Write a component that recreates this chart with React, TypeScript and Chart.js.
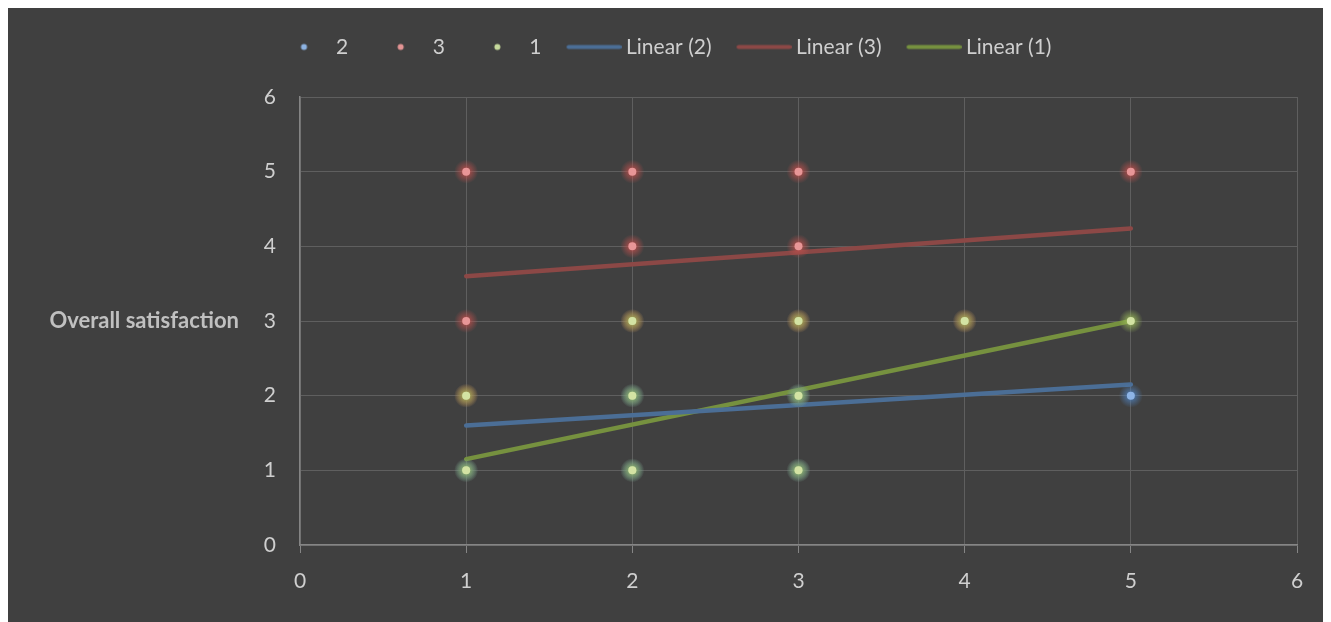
import React, { useEffect, useRef } from 'react';
import { Chart, registerables } from 'chart.js';

Chart.register(...registerables);

// ---------- data ----------
const seriesNames = ['2', '3', '1'];
const series2X = [5, 1, 2, 3, 2, 3];
const series2Y = [2, 1, 1, 1, 2, 2];
const series3X = [1, 2, 3, 5, 2, 3, 1, 1, 2, 3, 4];
const series3Y = [5, 5, 5, 5, 4, 4, 3, 2, 3, 3, 3];
const series1X = [1, 1, 2, 2, 2, 3, 3, 3, 4, 5];
const series1Y = [1, 2, 1, 2, 3, 1, 2, 3, 3, 3];

const trendNames = ['Linear (2)', 'Linear (3)', 'Linear (1)'];
const trendX = [1, 5];
const trend2Y = [1.6, 2.15];
const trend3Y = [3.6, 4.24];
const trend1Y = [1.15, 3.0];

const axisMin = 0;
const axisMax = 6;
const axisStep = 1;
const yAxisTitle = 'Overall satisfaction';

// ---------- styles ----------
const W = 1323;
const H = 614;
const BG = '#404040';
const GRID = '#5f5f5f';
const AXIS = '#858585';
const TEXT = '#cfcfcf';
const TITLE = '#c0c0c0';
const FONT = 'Lato, "Open Sans", sans-serif';

const pointColors = ['#8db4e6', '#e89697', '#d3e3a3'];
const glowRGB = ['79,129,189', '192,80,77', '155,187,89'];
const legendDotColors = ['#8db3e2', '#e39494', '#c6da9c'];
const trendColors = ['#4b6e96', '#8c4846', '#76913f'];

const zip = (xs: number[], ys: number[]) => xs.map((x, i) => ({ x, y: ys[i] }));

function makeLegendImage(kind: 'dot' | 'line', color: string): HTMLCanvasElement {
  const c = document.createElement('canvas');
  c.width = 76;
  c.height = 21;
  const g = c.getContext('2d')!;
  if (kind === 'line') {
    g.strokeStyle = color;
    g.lineWidth = 4;
    g.lineCap = 'round';
    g.beginPath();
    g.moveTo(23, 10.5);
    g.lineTo(74, 10.5);
    g.stroke();
  } else {
    g.fillStyle = color;
    g.beginPath();
    g.arc(48.5, 10.5, 3, 0, Math.PI * 2);
    g.fill();
  }
  return c;
}

const bgPlugin = {
  id: 'bgFill',
  beforeDraw(chart: any) {
    const ctx = chart.ctx;
    ctx.save();
    ctx.fillStyle = BG;
    ctx.fillRect(0, 0, chart.width, chart.height);
    ctx.restore();
  },
};

// soft glow behind each marker, placed at the element positions computed by the scales
const glowPlugin = {
  id: 'glow',
  beforeDatasetDraw(chart: any, args: any) {
    const ds = chart.data.datasets[args.index];
    if (!ds.glowRGB) return;
    const ctx = chart.ctx;
    ctx.save();
    for (const el of args.meta.data) {
      const { x, y } = el;
      const g = ctx.createRadialGradient(x, y, 2, x, y, 12);
      g.addColorStop(0, `rgba(${ds.glowRGB},0.85)`);
      g.addColorStop(0.45, `rgba(${ds.glowRGB},0.45)`);
      g.addColorStop(1, `rgba(${ds.glowRGB},0)`);
      ctx.fillStyle = g;
      ctx.beginPath();
      ctx.arc(x, y, 12, 0, Math.PI * 2);
      ctx.fill();
    }
    ctx.restore();
  },
};

const yTitlePlugin = {
  id: 'yTitle',
  afterDraw(chart: any) {
    const ctx = chart.ctx;
    const y = chart.scales.y.getPixelForValue(3);
    ctx.save();
    ctx.font = `bold 22px ${FONT}`;
    ctx.fillStyle = TITLE;
    ctx.textAlign = 'right';
    ctx.textBaseline = 'middle';
    ctx.fillText(yAxisTitle, 231, y);
    ctx.restore();
  },
};

export default function App() {
  const ref = useRef<HTMLCanvasElement>(null);

  useEffect(() => {
    document.documentElement.style.overflow = 'hidden';
    const canvas = ref.current!;
    const legendImages = [
      makeLegendImage('dot', legendDotColors[0]),
      makeLegendImage('dot', legendDotColors[1]),
      makeLegendImage('dot', legendDotColors[2]),
      makeLegendImage('line', trendColors[0]),
      makeLegendImage('line', trendColors[1]),
      makeLegendImage('line', trendColors[2]),
    ];

    const pointDs = (label: string, data: any[], i: number, order: number) => ({
      label,
      data,
      order,
      showLine: false,
      pointRadius: 4,
      pointBorderWidth: 0,
      pointBackgroundColor: pointColors[i],
      backgroundColor: pointColors[i],
      borderColor: pointColors[i],
      glowRGB: glowRGB[i],
    });
    const trendDs = (label: string, data: any[], i: number, order: number) => ({
      label,
      data,
      order,
      showLine: true,
      pointRadius: 0,
      borderColor: trendColors[i],
      backgroundColor: trendColors[i],
      borderWidth: 4.5,
      borderCapStyle: 'round',
    });

    const chart = new Chart(canvas, {
      type: 'scatter',
      data: {
        datasets: [
          pointDs(seriesNames[0], zip(series2X, series2Y), 0, 3),
          pointDs(seriesNames[1], zip(series3X, series3Y), 1, 2),
          pointDs(seriesNames[2], zip(series1X, series1Y), 2, 1),
          trendDs(trendNames[0], zip(trendX, trend2Y), 0, 4),
          trendDs(trendNames[1], zip(trendX, trend3Y), 1, 5),
          trendDs(trendNames[2], zip(trendX, trend1Y), 2, 6),
        ] as any,
      },
      options: {
        animation: false,
        responsive: false,
        maintainAspectRatio: false,
        events: [],
        layout: { padding: { left: 243.5, right: 34, top: 18.5, bottom: 0 } },
        scales: {
          x: {
            type: 'linear',
            position: 'bottom',
            min: axisMin,
            max: axisMax,
            ticks: { stepSize: axisStep, color: TEXT, font: { family: FONT, size: 21 }, padding: 16 },
            grid: { color: GRID, lineWidth: 1, tickLength: 8, tickColor: AXIS, drawTicks: true },
            border: { color: AXIS, width: 1.5 },
            afterFit: (s: any) => { s.height = 77; },
          },
          y: {
            type: 'linear',
            position: 'left',
            min: axisMin,
            max: axisMax,
            ticks: { stepSize: axisStep, color: TEXT, font: { family: FONT, size: 21 }, padding: 24 },
            grid: { color: GRID, lineWidth: 1, drawTicks: false },
            border: { color: AXIS, width: 1.5 },
            afterFit: (s: any) => { s.width = 48.5; },
          },
          spacer: {
            type: 'linear',
            axis: 'x',
            position: 'top',
            display: true,
            ticks: { display: false },
            grid: { display: false, drawTicks: false },
            border: { display: false },
            afterFit: (s: any) => { s.height = 29.5; },
          },
        } as any,
        plugins: {
          legend: {
            display: true,
            position: 'top',
            align: 'start',
            labels: {
              usePointStyle: true,
              pointStyleWidth: 64,
              boxHeight: 21,
              padding: 10,
              color: TEXT,
              font: { family: FONT, size: 21 },
              generateLabels: (c: any) =>
                c.data.datasets.map((ds: any, i: number) => ({
                  text: ds.label,
                  pointStyle: legendImages[i],
                  fillStyle: 'rgba(0,0,0,0)',
                  strokeStyle: 'rgba(0,0,0,0)',
                  lineWidth: 0,
                  fontColor: TEXT,
                  hidden: !c.isDatasetVisible(i),
                  datasetIndex: i,
                })),
            },
          },
          tooltip: { enabled: false },
        },
      } as any,
      plugins: [bgPlugin, glowPlugin, yTitlePlugin],
    });
    return () => chart.destroy();
  }, []);

  return (
    <div style={{ width: W, height: H }}>
      <canvas ref={ref} width={W} height={H} style={{ display: 'block', width: W, height: H }} />
    </div>
  );
}
